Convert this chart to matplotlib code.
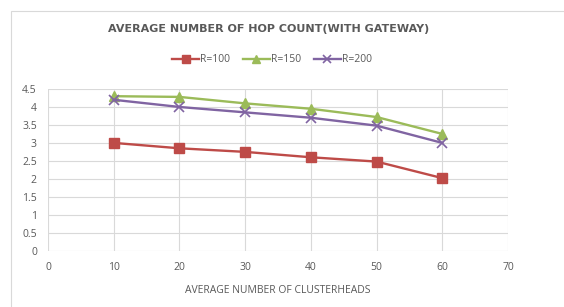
import matplotlib
matplotlib.use("Agg")
import matplotlib.pyplot as plt
from matplotlib.patches import Rectangle

x_vals = [10, 20, 30, 40, 50, 60]
r100 = [3.0, 2.85, 2.75, 2.6, 2.48, 2.02]
r150 = [4.3, 4.28, 4.1, 3.95, 3.72, 3.25]
r200 = [4.2, 4.0, 3.85, 3.7, 3.48, 3.0]
series_labels = ["R=100", "R=150", "R=200"]
title = "AVERAGE NUMBER OF HOP COUNT(WITH GATEWAY)"
xlabel = "AVERAGE NUMBER OF CLUSTERHEADS"

W, H = 564, 307
plt.rcParams['font.family'] = ['Open Sans', 'DejaVu Sans']
fig = plt.figure(figsize=(W/100, H/100), dpi=100)
fig.patch.set_facecolor("white")

# outer chart frame
fig.patches.append(Rectangle((11/W, -0.1), 1.2, (H-11)/H + 0.1, transform=fig.transFigure,
                             fill=False, edgecolor="#d9d9d9", linewidth=0.8))

ax = fig.add_axes([48/W, 1-250.7/H, (508-48)/W, (250.7-89)/H])
txt = "#595959"

ax.plot(x_vals, r100, color="#be4b48", lw=1.7, marker="s", ms=7, label=series_labels[0], zorder=3)
ax.plot(x_vals, r150, color="#9bbb59", lw=1.7, marker="^", ms=7, label=series_labels[1], zorder=3)
ax.plot(x_vals, r200, color="#8064a2", lw=1.7, marker="x", ms=7, mew=1.2, label=series_labels[2], zorder=3)

ax.set_xlim(0, 70)
ax.set_ylim(0, 4.5)
ax.set_xticks(range(0, 71, 10))
ax.set_yticks([0, 0.5, 1, 1.5, 2, 2.5, 3, 3.5, 4, 4.5])
ax.set_yticklabels(["0", "0.5", "1", "1.5", "2", "2.5", "3", "3.5", "4", "4.5"])
ax.grid(True, color="#d9d9d9", lw=0.8)
ax.set_axisbelow(True)
for s in ax.spines.values():
    s.set_visible(False)
ax.tick_params(length=0, colors=txt, labelsize=7.5, pad=8)
ax.tick_params(axis="y", pad=8)
ax.set_xlabel(xlabel, color=txt, fontsize=7.5, labelpad=9)

fig.text(269/W, 1-29/H, title, ha="center", va="center", fontsize=8, fontweight="bold",
         color=txt, family=['DejaVu Sans'])

leg = fig.legend(loc="center", bbox_to_anchor=(272/W, 1-60/H), ncol=3, frameon=False,
                 fontsize=7.5, handlelength=2.6, columnspacing=1.2, handletextpad=0.1,
                 markerscale=0.8, labelcolor=txt)

fig.savefig("out.png", dpi=100, facecolor="white")
